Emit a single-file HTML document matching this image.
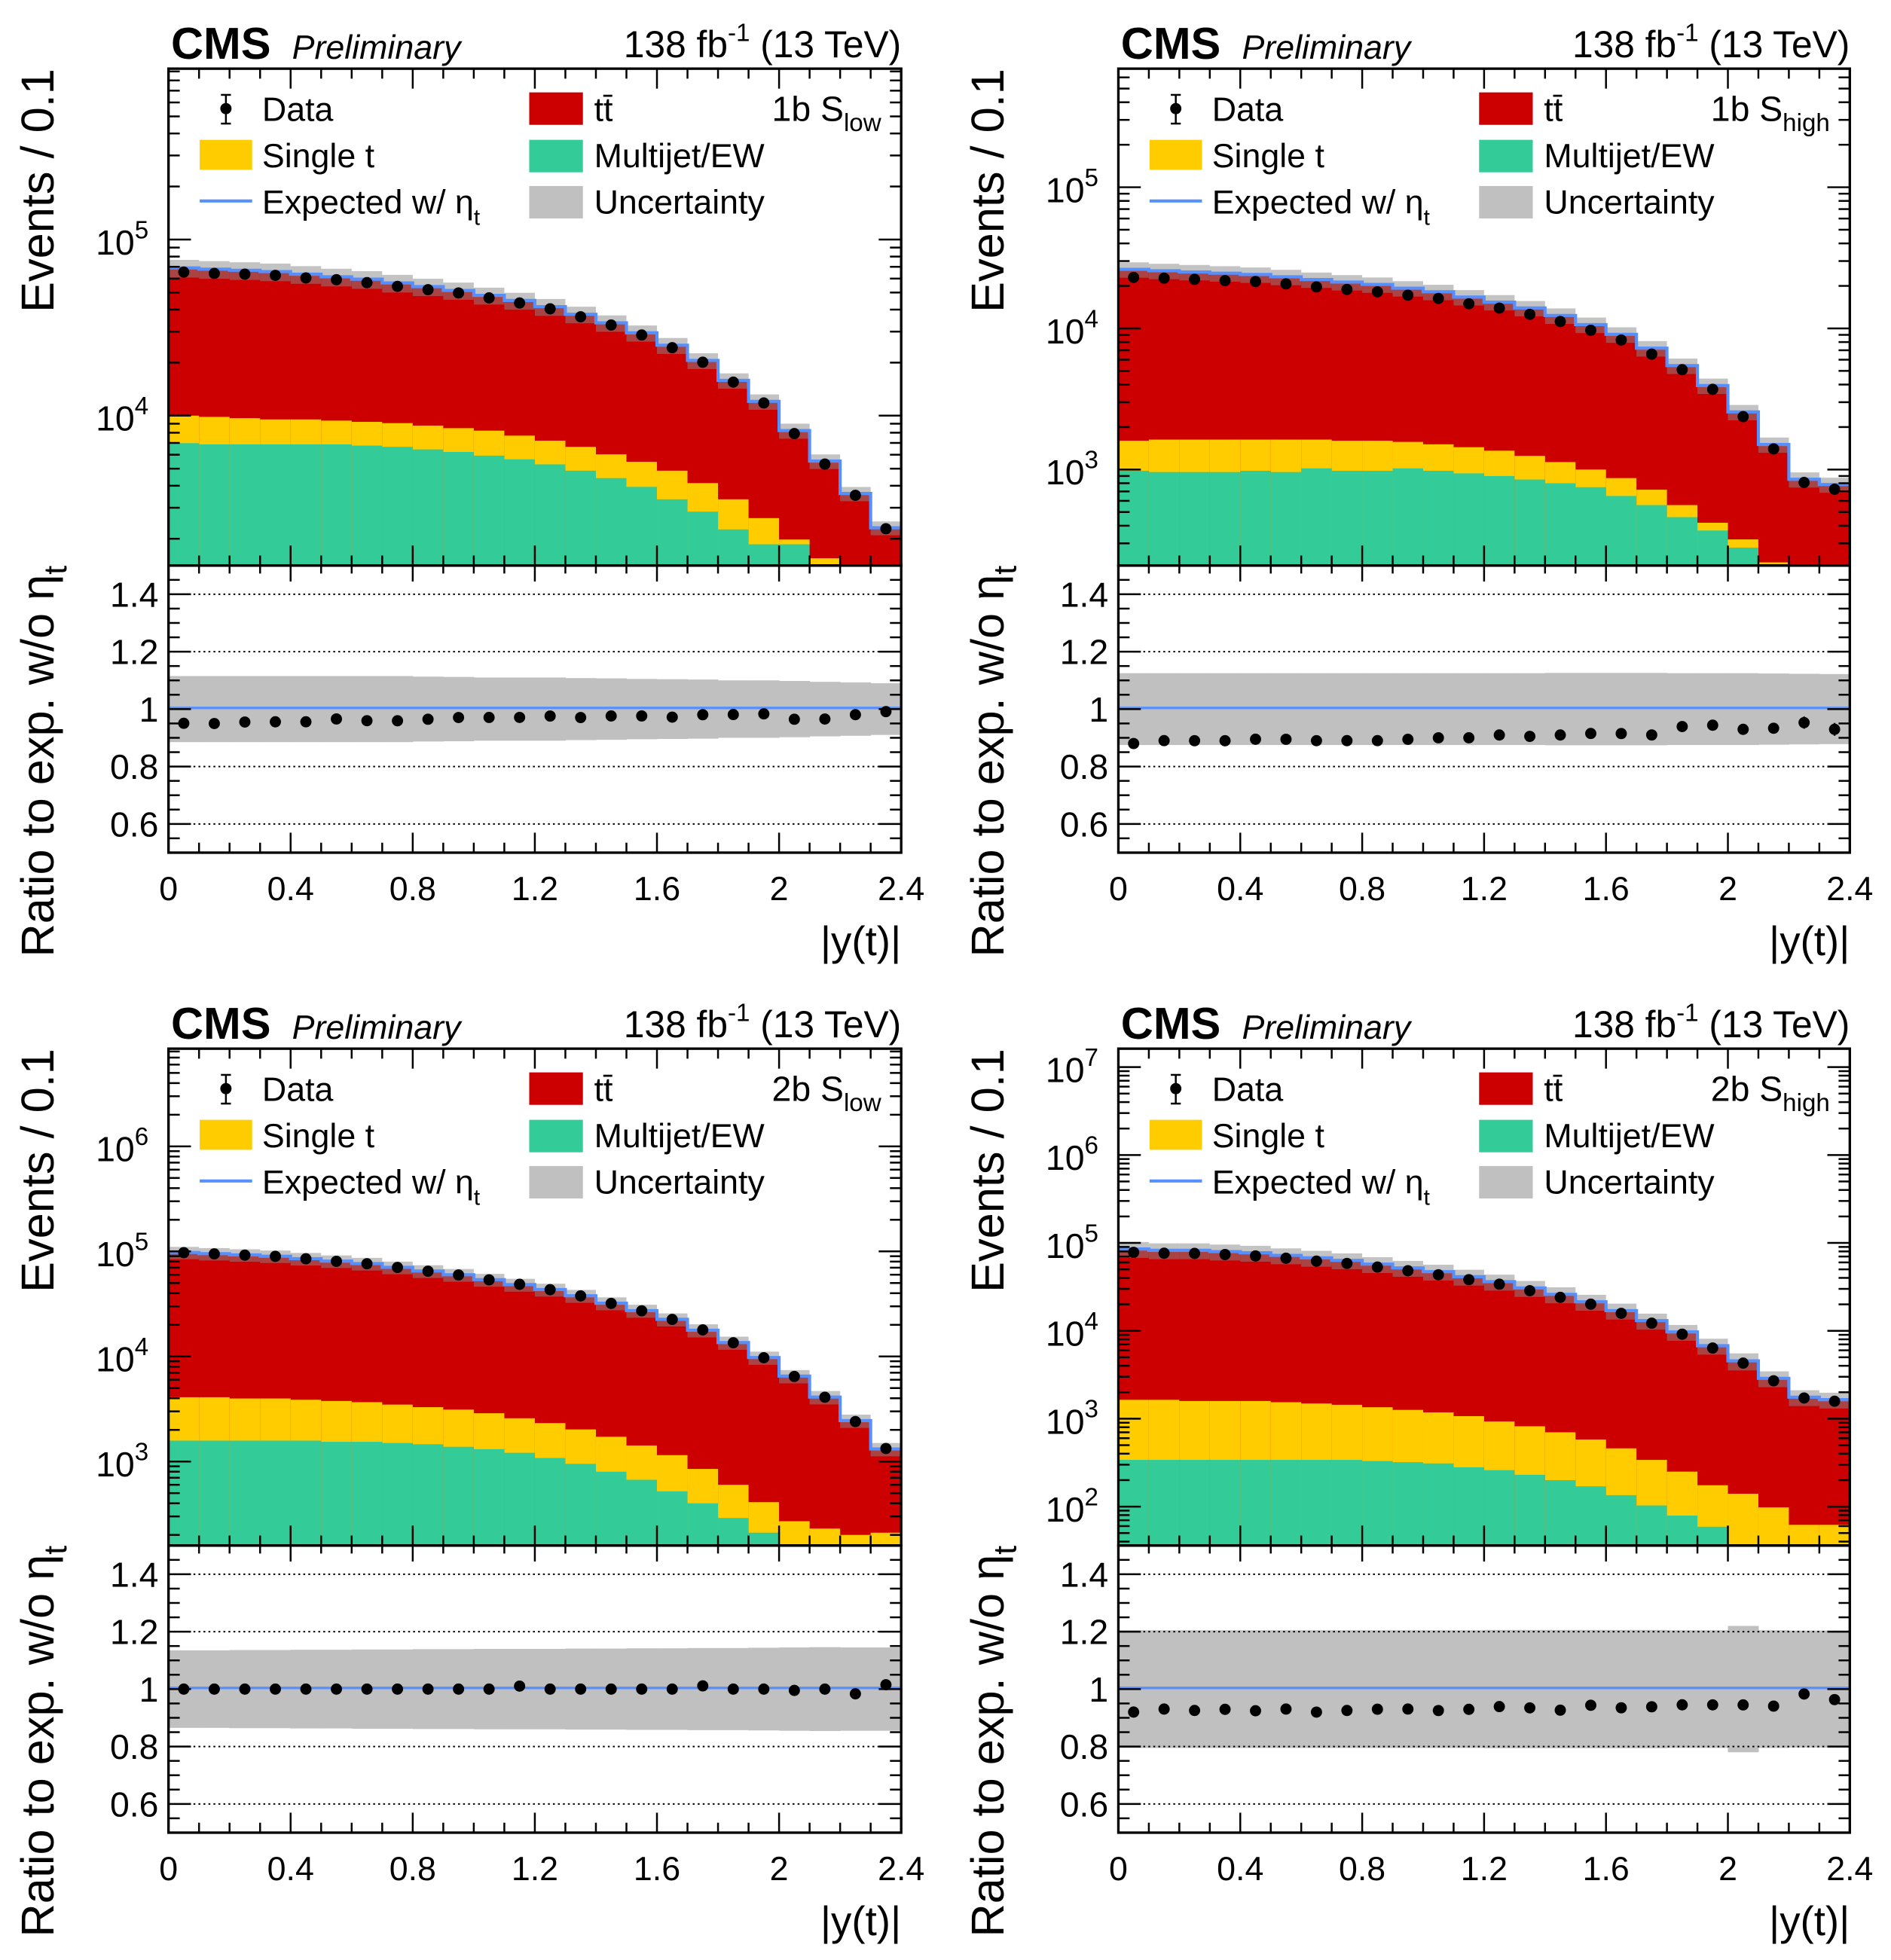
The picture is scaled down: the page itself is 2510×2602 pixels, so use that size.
<!DOCTYPE html>
<html><head><meta charset="utf-8">
<style>
html,body{margin:0;padding:0;background:#fff;}
svg{display:block;font-family:"Liberation Sans",sans-serif;}
</style></head>
<body>
<svg id="fig" xmlns="http://www.w3.org/2000/svg" width="2510" height="2602" viewBox="0 0 1515 1570" preserveAspectRatio="none"></svg>
<script>
// ---------- data (24 bins of |y(t)|, width 0.1) ----------
const binLow = [0,0.1,0.2,0.3,0.4,0.5,0.6,0.7,0.8,0.9,1.0,1.1,1.2,1.3,1.4,1.5,1.6,1.7,1.8,1.9,2.0,2.1,2.2,2.3];
const xTicksLabels = ["0","0.4","0.8","1.2","1.6","2","2.4"];
const ratioTickLabels = ["0.6","0.8","1","1.2","1.4"];

// Panel 1b S_low
const tl_ttbar = [58700,57760,56920,55980,53780,51830,50080,47430,45020,42710,39780,37200,34190,30850,27470,23930,20130,16360,12450,9380,6220,3950,2400,1300];
const tl_singlet = [3020,2970,2810,2650,2650,2500,2460,2420,2350,2270,2290,2050,1920,1780,1610,1530,1520,1290,1090,760,120,450,400,400];
const tl_multijet = [6980,6870,6870,6870,6870,6870,6760,6650,6430,6220,5930,5650,5290,4870,4420,3940,3350,2850,2260,1860,1860,1100,800,600];
const tl_data = [65300,64200,63600,62600,60500,59100,56900,54200,51900,49700,46600,43600,40400,36400,32700,28700,24300,20100,15500,11800,7910,5310,3530,2280];
const tl_unc = [0.115,0.115,0.115,0.115,0.115,0.115,0.115,0.115,0.113,0.112,0.11,0.11,0.11,0.108,0.107,0.105,0.104,0.103,0.1,0.1,0.098,0.095,0.093,0.09];

// Panel 1b S_high
const tr_ttbar = [24500,23870,23370,22870,22370,21470,20470,19600,18800,17630,16590,15160,13940,12650,11170,9600,8170,6500,4870,3500,2230,1280,700,660];
const tr_singlet = [620,670,670,670,650,670,610,620,620,550,530,500,460,400,330,250,220,160,100,50,40,60,50,40];
const tr_multijet = [980,960,960,960,980,960,1020,980,980,1020,980,940,900,850,800,750,650,560,460,370,280,160,100,80];
const tr_data = [22970,22700,22250,21800,21480,20670,19670,18870,18160,17180,16290,14940,13920,12580,11190,9700,8270,6570,5100,3700,2370,1400,810,725];
const tr_unc = [0.125,0.125,0.125,0.125,0.125,0.125,0.125,0.125,0.125,0.125,0.125,0.125,0.125,0.125,0.126,0.126,0.126,0.126,0.125,0.125,0.125,0.124,0.123,0.122];

// Panel 2b S_low
const bl_ttbar = [93210,90610,88220,85720,81130,76730,72630,66820,61510,56580,50720,45520,40880,35680,30280,25780,21350,16850,12900,9310,6210,3860,2240,1100];
const bl_singlet = [2510,2510,2400,2400,2290,2230,2130,1980,1830,1740,1570,1370,1240,1070,920,750,630,450,310,200,120,80,100,150];
const bl_multijet = [1580,1580,1580,1580,1580,1540,1540,1500,1460,1380,1310,1210,1080,950,800,670,520,400,290,210,150,150,100,60];
const bl_data = [97300,94700,92200,89700,85000,80500,76300,70300,64800,59700,53600,48600,43200,37700,32000,27200,22500,17900,13500,9720,6450,4090,2400,1330];
const bl_unc = [0.135,0.135,0.136,0.136,0.137,0.137,0.138,0.138,0.139,0.139,0.14,0.14,0.14,0.141,0.141,0.142,0.142,0.143,0.143,0.144,0.145,0.146,0.145,0.145];

// Panel 2b S_high
const br_ttbar = [83260,80360,80410,77810,75310,70360,65910,61660,55750,50540,45720,40030,35170,29780,25200,20720,16440,12660,9430,6565,4400,2772,1688,1578];
const br_singlet = [1300,1300,1250,1250,1250,1200,1150,1100,1020,940,870,790,670,590,500,410,325,237,171,116,110,73,42,42];
const br_multijet = [340,340,340,340,340,340,340,340,330,320,310,280,260,230,200,170,135,103,79,59,30,25,20,20];
const br_data = [78100,76300,75900,73800,71100,66900,62000,58400,53100,48200,43400,38200,33900,28600,24000,20100,15800,12200,9150,6370,4290,2700,1720,1580];
const br_unc = [0.205,0.205,0.205,0.205,0.205,0.205,0.205,0.205,0.205,0.205,0.205,0.205,0.206,0.206,0.206,0.206,0.206,0.206,0.205,0.205,0.22,0.205,0.204,0.204];

const etaShift = [1.004,1.004,1.004,1.004,1.004,1.004,1.004,1.004,1.004,1.004,1.004,1.004,1.004,1.004,1.004,1.004,1.004,1.004,1.004,1.004,1.004,1.004,1.004,1.004];

// ---------- layout ----------
const panels = [
 {id:"tl", x0:135, x1:722, top:55, split:453, bot:683, logMin:3.149, logMax:5.97, decades:[4,5], tag:"1b S", sub:"low",
  tt:tl_ttbar, st:tl_singlet, mj:tl_multijet, data:tl_data, unc:tl_unc},
 {id:"tr", x0:896, x1:1482, top:55, split:453, bot:683, logMin:2.32, logMax:5.84, decades:[3,4,5], tag:"1b S", sub:"high",
  tt:tr_ttbar, st:tr_singlet, mj:tr_multijet, data:tr_data, unc:tr_unc},
 {id:"bl", x0:135, x1:722, top:840, split:1238, bot:1468, logMin:2.2, logMax:6.93, decades:[3,4,5,6], tag:"2b S", sub:"low",
  tt:bl_ttbar, st:bl_singlet, mj:bl_multijet, data:bl_data, unc:bl_unc},
 {id:"br", x0:896, x1:1482, top:840, split:1238, bot:1468, logMin:1.557, logMax:7.21, decades:[2,3,4,5,6,7], tag:"2b S", sub:"high",
  tt:br_ttbar, st:br_singlet, mj:br_multijet, data:br_data, unc:br_unc}
];

const NS = "http://www.w3.org/2000/svg";
const svg = document.getElementById("fig");
function el(tag, attrs, parent, text){
  const e = document.createElementNS(NS, tag);
  for (const k in attrs) e.setAttribute(k, attrs[k]);
  if (text !== undefined) e.textContent = text;
  (parent||svg).appendChild(e);
  return e;
}

panels.forEach(p => {
  const g = el("g", {});
  
  
  const W = p.x1 - p.x0;
  const xs = v => p.x0 + v / 2.4 * W;
  const ys = v => {
    const lv = Math.log10(Math.max(v, 1e-3));
    const y = p.top + (p.logMax - lv) / (p.logMax - p.logMin) * (p.split - p.top);
    return Math.min(Math.max(y, p.top), p.split);
  };
  const rs = v => {
    const y = p.split + (1.5 - v) / 1.0 * (p.bot - p.split);
    return Math.min(Math.max(y, p.split), p.bot);
  };
  const n = binLow.length;
  const clip = el("clipPath", {id:"clip-"+p.id}, g);
  el("rect", {x:p.x0, y:p.top, width:W, height:p.split-p.top}, clip);
  const stack = el("g", {"clip-path":"url(#clip-"+p.id+")"}, g);
  
  

  for (let i=0;i<n;i++){
    const xa = xs(binLow[i]), xb = xs(binLow[i]+0.1);
    const mj = p.mj[i], st = mj + p.st[i], tot = st + p.tt[i];
    const r1 = el("rect", {x:xa, y:ys(tot), width:xb-xa+0.3, height:p.split-ys(tot), fill:"#cc0000"}, stack);
    
    
    const r2 = el("rect", {x:xa, y:ys(st), width:xb-xa+0.3, height:p.split-ys(st), fill:"#ffcc00"}, stack);
    
    
    const r3 = el("rect", {x:xa, y:ys(mj), width:xb-xa+0.3, height:p.split-ys(mj), fill:"#33cc99"}, stack);
    
    
    const u = p.unc[i];
    const ub = el("rect", {x:xa, y:ys(tot*(1+u)), width:xb-xa, height:ys(tot*(1-u))-ys(tot*(1+u)), fill:"#888", "fill-opacity":"0.5"}, stack);
    
    
    const rb = el("rect", {x:xa, y:rs(1+u), width:xb-xa+0.3, height:rs(1-u)-rs(1+u), fill:"#c0c0c0"}, g);
    
    
  }
  let d = "", dr = "";
  for (let i=0;i<n;i++){
    const tot = (p.mj[i]+p.st[i]+p.tt[i])*etaShift[i];
    const xa = xs(binLow[i]), xb = xs(binLow[i]+0.1);
    d += (i===0?"M":"L") + xa + "," + ys(tot) + " L" + xb + "," + ys(tot) + " ";
    dr += (i===0?"M":"L") + xa + "," + rs(etaShift[i]) + " L" + xb + "," + rs(etaShift[i]) + " ";
  }
  const ln = el("path", {d:d, fill:"none", stroke:"#5790fc", "stroke-width":2.5}, stack);
  
  

  [0.6,0.8,1.2,1.4].forEach(v=>{
    el("line", {x1:p.x0, x2:p.x1, y1:rs(v), y2:rs(v), stroke:"#000", "stroke-width":1.2, "stroke-dasharray":"1.5,2.5"}, g);
  });
  const lr = el("path", {d:dr, fill:"none", stroke:"#5790fc", "stroke-width":2}, g);
  
  

  for (let i=0;i<n;i++){
    const xc = xs(binLow[i]+0.05);
    const tot = p.mj[i]+p.st[i]+p.tt[i];
    const c = el("circle", {cx:xc, cy:ys(p.data[i]), r:4.5, fill:"#000"}, g);
    
    
    const rv = p.data[i]/tot;
    const e = 0.6/Math.sqrt(p.data[i]);
    el("line", {x1:xc, x2:xc, y1:rs(rv+e), y2:rs(rv-e), stroke:"#000", "stroke-width":1.5}, g);
    const c2 = el("circle", {cx:xc, cy:rs(rv), r:4.5, fill:"#000"}, g);
    
    
  }

  el("rect", {x:p.x0, y:p.top, width:W, height:p.split-p.top, fill:"none", stroke:"#000", "stroke-width":2}, g);
  el("rect", {x:p.x0, y:p.split, width:W, height:p.bot-p.split, fill:"none", stroke:"#000", "stroke-width":2}, g);

  for (let k=0;k<=24;k++){
    const v = k*0.1, x = xs(v), major = (k%4===0);
    const L = major?16:8;
    [[p.top,1],[p.split,-1],[p.split,1],[p.bot,-1]].forEach(([y0,s])=>{
      el("line",{x1:x,x2:x,y1:y0,y2:y0+s*L*(y0===p.split&&s===1?0.8:1),stroke:"#000","stroke-width":1.5},g);
    });
  }
  xTicksLabels.forEach((t,k)=>{
    const tx = el("text",{x:xs(k*0.4), y:p.bot+38, "font-size":27, "text-anchor":"middle"}, g, t);
    
    
  });
  const xt = el("text",{x:p.x1, y:p.bot+82, "font-size":33, "text-anchor":"end"}, g, "|y(t)|");
  
  

  for (let dc=Math.floor(p.logMin); dc<=Math.ceil(p.logMax); dc++){
    for (let m=1;m<=9;m++){
      const lv = dc + Math.log10(m);
      if (lv < p.logMin || lv > p.logMax) continue;
      const y = p.top + (p.logMax - lv)/(p.logMax-p.logMin)*(p.split-p.top);
      const L = m===1?18:9;
      el("line",{x1:p.x0,x2:p.x0+L,y1:y,y2:y,stroke:"#000","stroke-width":1.5},g);
      el("line",{x1:p.x1,x2:p.x1-L,y1:y,y2:y,stroke:"#000","stroke-width":1.5},g);
    }
  }
  p.decades.forEach(dc=>{
    const y = p.top + (p.logMax - dc)/(p.logMax-p.logMin)*(p.split-p.top);
    const t = el("text",{x:p.x0-16, y:y+12, "font-size":28, "text-anchor":"end"}, g);
    
    
    el("tspan",{},t,"10");
    el("tspan",{dy:-13,"font-size":20},t,String(dc));
  });
  for (let k=0;k<=20;k++){
    const v = 0.5 + k*0.05, y = rs(v);
    const L = (k%4===2)?18:9;
    el("line",{x1:p.x0,x2:p.x0+L,y1:y,y2:y,stroke:"#000","stroke-width":1.5},g);
    el("line",{x1:p.x1,x2:p.x1-L,y1:y,y2:y,stroke:"#000","stroke-width":1.5},g);
  }
  ratioTickLabels.forEach((t,k)=>{
    const tx = el("text",{x:p.x0-8, y:rs(0.6+k*0.2)+10, "font-size":28, "text-anchor":"end"}, g, t);
    
    
  });

  const bx = p.x0 - 92;
  const yt = el("text",{x:0,y:0,"font-size":37,"text-anchor":"end",transform:`translate(${bx},${p.top}) rotate(-90)`}, g, "Events / 0.1");
  
  
  const rt = el("text",{x:0,y:0,"font-size":37,"text-anchor":"end",transform:`translate(${bx},${p.split}) rotate(-90)`}, g);
  
  
  el("tspan",{},rt,"Ratio to exp. w/o η");
  el("tspan",{dy:10,"font-size":26},rt,"t");

  const cms = el("text",{x:p.x0+2, y:p.top-8, "font-size":36, "font-weight":"bold"}, g, "CMS");
  
  
  const pr = el("text",{x:p.x0+99, y:p.top-8, "font-size":27, "font-style":"italic"}, g, "Preliminary");
  
  
  const lumi = el("text",{x:p.x1, y:p.top-9, "font-size":30, "text-anchor":"end"}, g);
  
  
  el("tspan",{},lumi,"138 fb");
  el("tspan",{dy:-13,"font-size":20},lumi,"-1");
  el("tspan",{dy:13},lumi," (13 TeV)");

  const tag = el("text",{x:p.x1-16, y:p.top+42, "font-size":28, "text-anchor":"end"}, g);
  
  
  el("tspan",{},tag,p.tag);
  el("tspan",{dy:8,"font-size":20},tag,p.sub);

  const L0 = p.x0, T0 = p.top;
  const lg = el("g",{},g);
  
  
  el("line",{x1:L0+46,x2:L0+46,y1:T0+21,y2:T0+44,stroke:"#000","stroke-width":1.5},lg);
  el("line",{x1:L0+42,x2:L0+50,y1:T0+21,y2:T0+21,stroke:"#000","stroke-width":1.5},lg);
  el("line",{x1:L0+42,x2:L0+50,y1:T0+44,y2:T0+44,stroke:"#000","stroke-width":1.5},lg);
  el("circle",{cx:L0+46,cy:T0+32,r:4.5,fill:"#000"},lg);
  el("text",{x:L0+75,y:T0+42,"font-size":27},lg,"Data");
  el("rect",{x:L0+25,y:T0+57,width:42,height:24,fill:"#ffcc00"},lg);
  el("text",{x:L0+75,y:T0+79,"font-size":27},lg,"Single t");
  el("line",{x1:L0+25,x2:L0+67,y1:T0+106,y2:T0+106,stroke:"#5790fc","stroke-width":2.5},lg);
  const ex = el("text",{x:L0+75,y:T0+116,"font-size":27},lg);
  el("tspan",{},ex,"Expected w/ η");
  el("tspan",{dy:9,"font-size":18},ex,"t");
  el("rect",{x:L0+289,y:T0+19,width:43,height:26,fill:"#cc0000"},lg);
  el("text",{x:L0+341,y:T0+42,"font-size":27},lg,"tt̄");
  el("rect",{x:L0+289,y:T0+57,width:43,height:26,fill:"#33cc99"},lg);
  el("text",{x:L0+341,y:T0+79,"font-size":27},lg,"Multijet/EW");
  el("rect",{x:L0+289,y:T0+94,width:43,height:26,fill:"#c0c0c0"},lg);
  el("text",{x:L0+341,y:T0+116,"font-size":27},lg,"Uncertainty");
});
</script>
</body></html>
